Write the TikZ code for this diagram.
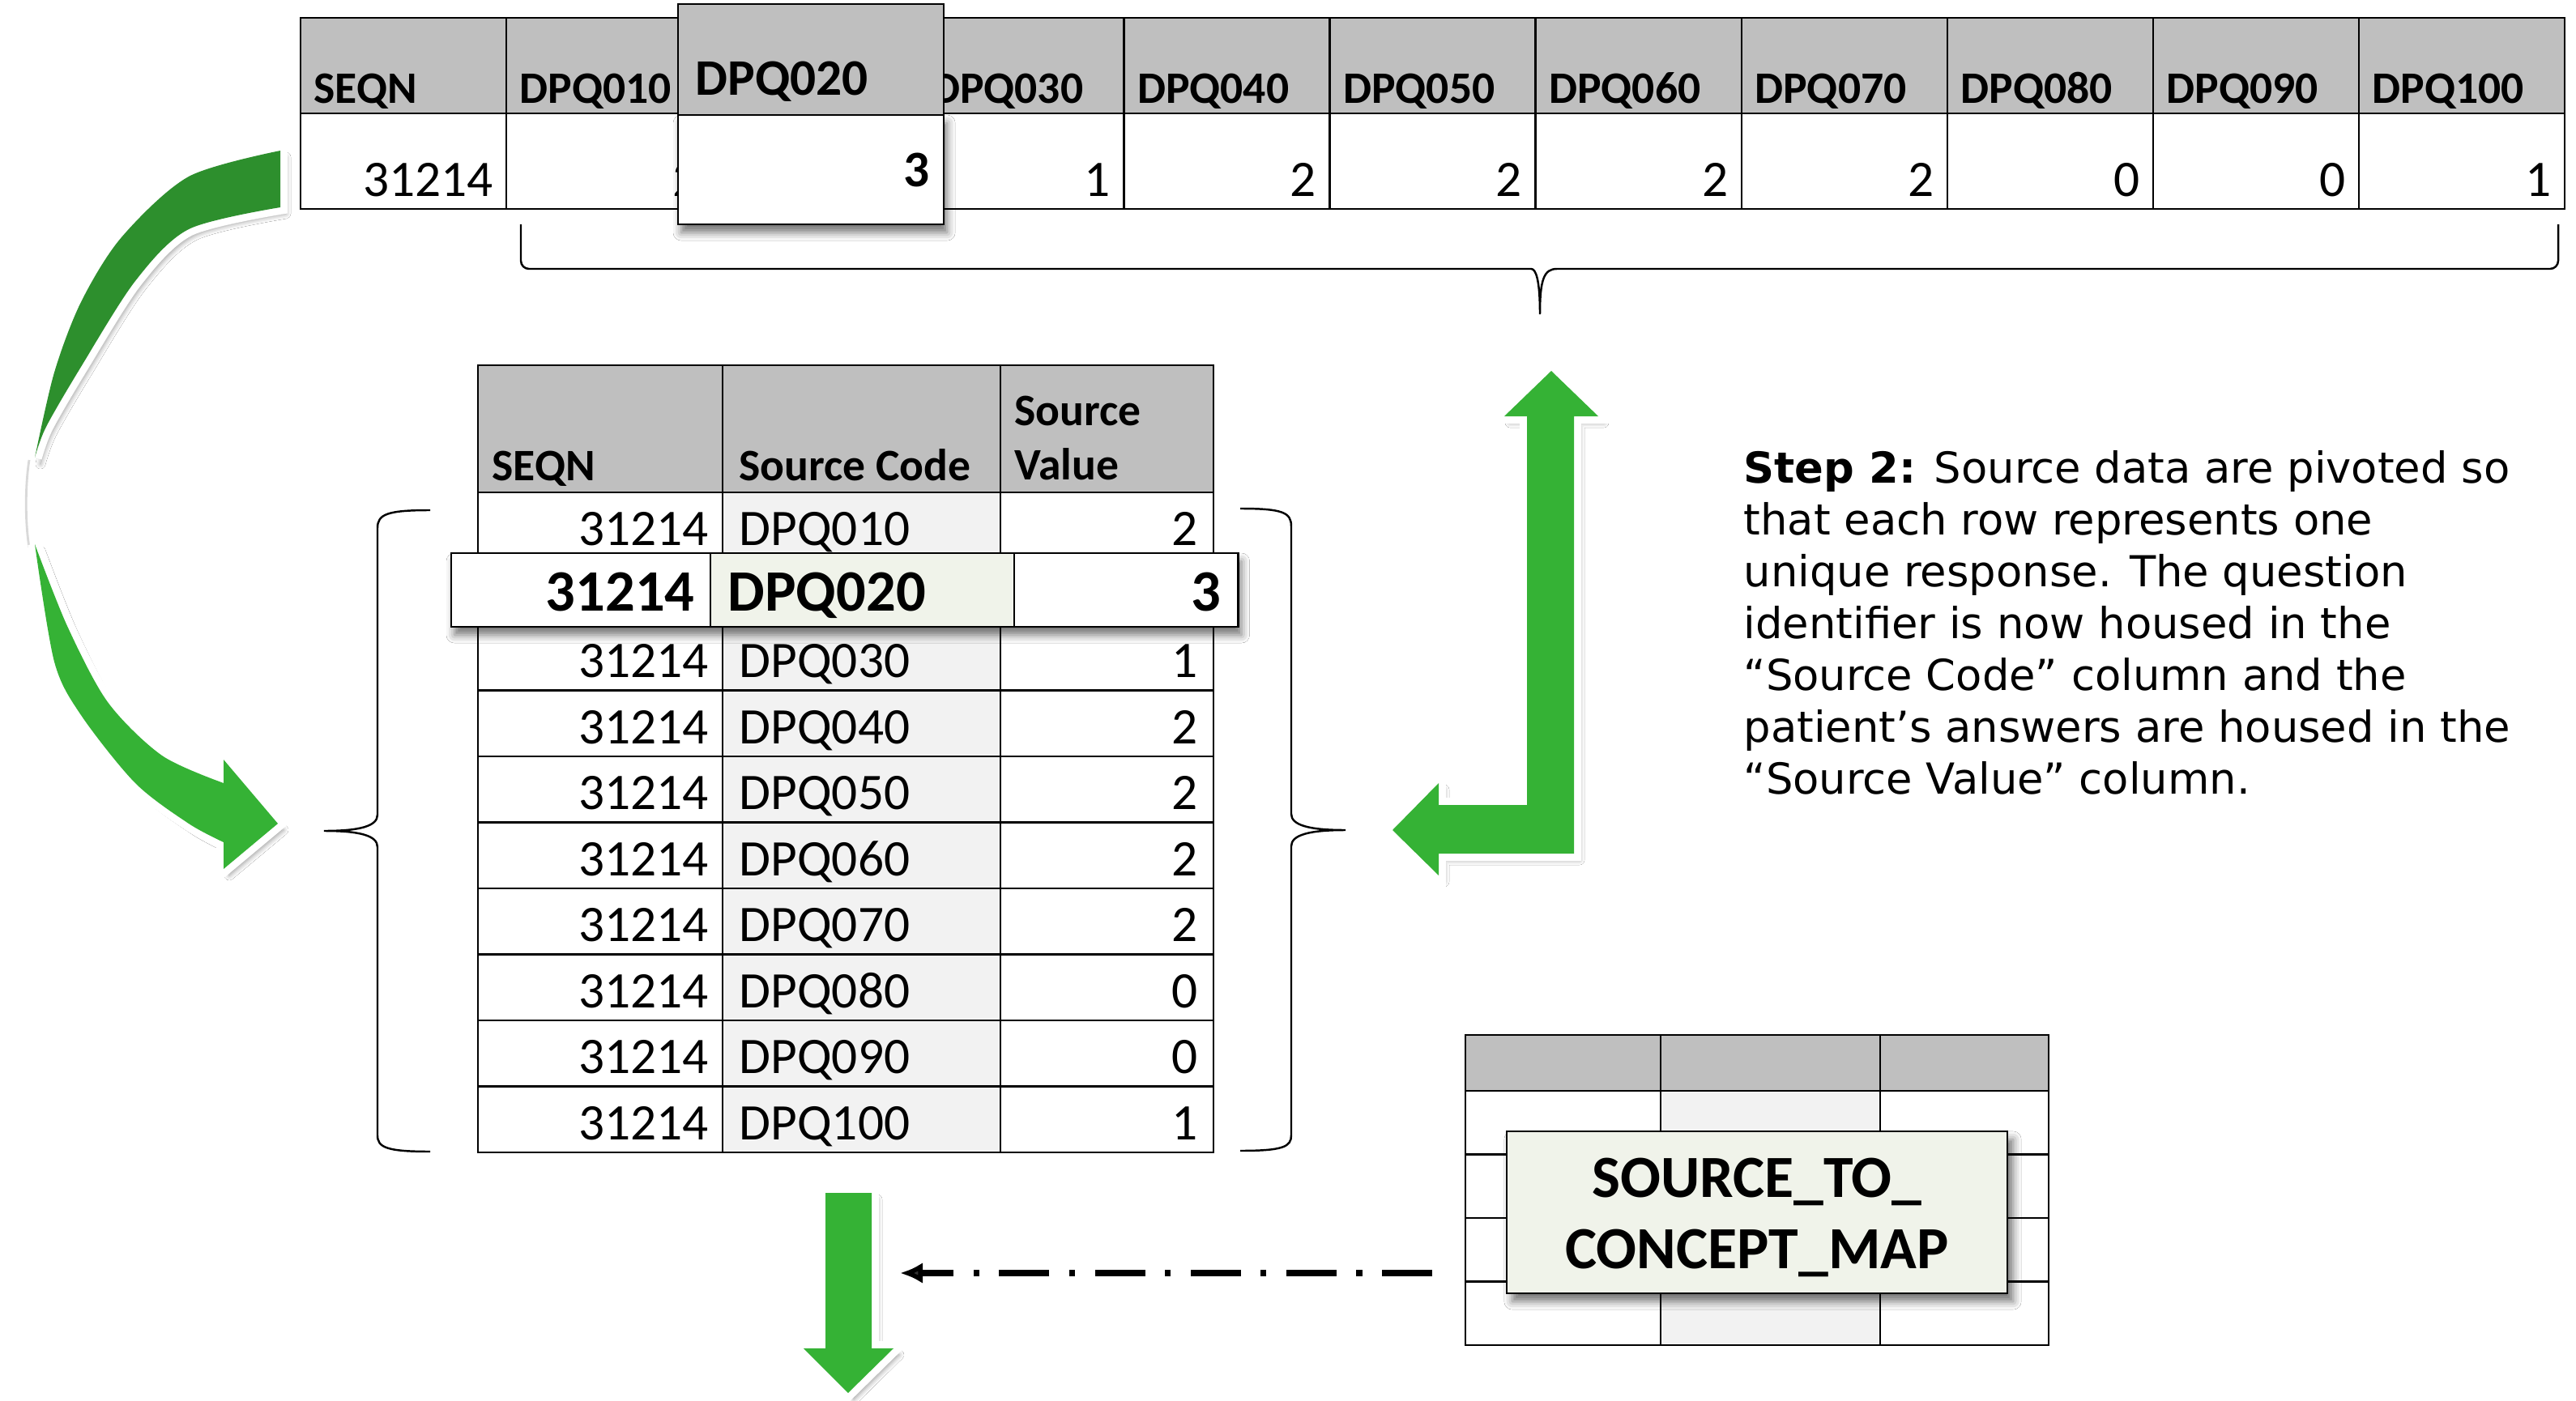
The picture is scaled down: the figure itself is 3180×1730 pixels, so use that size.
\documentclass[tikz,border=0pt]{standalone}
\usepackage{fontspec}
\setmainfont{Carlito}
\newfontfamily\notefont{DejaVu Sans}
\usetikzlibrary{arrows.meta,positioning,calc,shadows.blur}

\definecolor{hdrgray}{RGB}{191,191,191}
\definecolor{codegray}{RGB}{242,242,242}
\definecolor{popfill}{RGB}{240,243,234}
\definecolor{lightgreen}{RGB}{53,178,53}
\definecolor{darkgreen}{RGB}{45,143,45}

\tikzset{
  cell/.style={draw=black, line width=0.65pt, inner sep=0pt, outer sep=0pt, anchor=north west},
  topcell/.style={cell, minimum width=2.541cm, minimum height=1.18cm},
  midcell/.style={cell, minimum height=0.815cm},
  hdrtext/.style={anchor=base west, inner sep=0pt, font=\bfseries\fontsize{15.8}{19}\selectfont},
  numtext/.style={anchor=base east, inner sep=0pt, font=\fontsize{18}{21}\selectfont},
  codetext/.style={anchor=base west, inner sep=0pt, font=\fontsize{18}{21}\selectfont},
  popnum/.style={anchor=base east, inner sep=0pt, font=\bfseries\fontsize{20.6}{24}\selectfont},
  popcode/.style={anchor=base west, inner sep=0pt, font=\bfseries\fontsize{20.6}{24}\selectfont},
  popshadow/.style={blur shadow={shadow xshift=0.04cm, shadow yshift=-0.1cm, shadow blur radius=0.1cm, shadow opacity=55}},
  greenarrow/.style={blur shadow={shadow xshift=0.07cm, shadow yshift=-0.08cm, shadow blur radius=0.06cm, shadow opacity=40},
    preaction={draw=white, line width=5pt, line join=miter, miter limit=3}, fill=#1},
  bracepath/.style={draw=black, line width=0.7pt},
}

\begin{document}
\begin{tikzpicture}[x=0.01cm, y=-0.01cm]
\useasboundingbox (0,0) rectangle (3180,1730);
\fill[white] (0,0) rectangle (3180,1730);

% curved arrow from the wide row down to the long table
\path[greenarrow=darkgreen] (346,186) -- (346,256)
  -- plot[smooth] coordinates {(346,256) (233,283) (167,347) (100,453) (57,527) (43,565)}
  -- plot[smooth] coordinates {(43,565) (67,460) (100,373) (150,293) (233,218) (346,186)} -- cycle;
\draw[black!15, line width=0.8pt] (36,568) .. controls (31,600) and (31,645) .. (36,676);
\path[greenarrow=lightgreen] (43,672)
  -- plot[smooth] coordinates {(43,672) (83,773) (133,867) (200,933) (276,967)}
  -- (276,938) -- (343,1017) -- (276,1073) -- (276,1040)
  -- plot[smooth] coordinates {(276,1040) (233,1017) (167,967) (100,883) (67,817) (43,672)} -- cycle;

% wide table: one row per respondent
\foreach \name/\val [count=\i from 0] in {SEQN/31214, DPQ010/2, DPQ020/3, DPQ030/1, DPQ040/2,
    DPQ050/2, DPQ060/2, DPQ070/2, DPQ080/0, DPQ090/0, DPQ100/1} {
  \node[topcell, fill=hdrgray] (toph\i) at (371+254.1*\i, 22) {};
  \node[topcell] (topv\i) at (371+254.1*\i, 140) {};
  \ifnum\i=2 \else % hidden under the highlighted column
    \node[hdrtext] at ($(toph\i.south west)+(16,-13)$) {\name};
    \node[numtext] at ($(topv\i.south east)+(-16,-16)$) {\val};
  \fi
}
% highlighted column
\node[cell, fill=white, minimum width=3.28cm, minimum height=1.35cm, popshadow] (popv) at (837,142) {};
\node[cell, fill=hdrgray, minimum width=3.28cm, minimum height=1.37cm] (poph) at (837,5) {};
\node[hdrtext, font=\bfseries\fontsize{18}{21}\selectfont] at ($(poph.south west)+(21,-25)$) {DPQ020};
\node[numtext, font=\bfseries\fontsize{18}{21}\selectfont] at ($(popv.south east)+(-17,-47)$) {3};

% brace under the question columns
\draw[bracepath] (643,277) [rounded corners=0.1cm] -- (643,332) -- (1880,332) [sharp corners]
  .. controls (1896,332) and (1901,345) .. (1901,388)
  .. controls (1901,345) and (1906,332) .. (1922,332) [rounded corners=0.1cm] -- (3158,332) -- (3158,277);

% long table
\node[cell, fill=hdrgray, minimum width=3.02cm, minimum height=1.57cm] (midh1) at (590,451) {};
\node[cell, fill=hdrgray, minimum width=3.43cm, minimum height=1.57cm] (midh2) at (892,451) {};
\node[cell, fill=hdrgray, minimum width=2.63cm, minimum height=1.57cm] (midh3) at (1235,451) {};
\node[hdrtext] at ($(midh1.south west)+(17,-15)$) {SEQN};
\node[hdrtext] at ($(midh2.south west)+(20,-15)$) {Source Code};
\node[hdrtext, align=left, anchor=south west, text depth=0pt] at ($(midh3.south west)+(17,-15)$) {Source\\Value};

\foreach \code/\val [count=\r from 0] in {DPQ010/2, DPQ020/3, DPQ030/1, DPQ040/2, DPQ050/2,
    DPQ060/2, DPQ070/2, DPQ080/0, DPQ090/0, DPQ100/1} {
  \node[midcell, minimum width=3.02cm] (seqn\r) at (590, 608+81.5*\r) {};
  \node[midcell, minimum width=3.43cm, fill=codegray] (code\r) at (892, 608+81.5*\r) {};
  \node[midcell, minimum width=2.63cm] (val\r) at (1235, 608+81.5*\r) {};
  \ifnum\r=1 \else % hidden under the highlighted row
    \node[numtext] at ($(seqn\r.south east)+(-17,-16)$) {31214};
    \node[codetext] at ($(code\r.south west)+(20,-16)$) {\code};
    \node[numtext] at ($(val\r.south east)+(-19,-16)$) {\val};
  \fi
}
% highlighted row
\node[cell, fill=white, minimum width=9.71cm, minimum height=0.91cm, popshadow] (poprow) at (557,683) {};
\node[cell, fill=white, minimum width=3.2cm, minimum height=0.91cm] (popseqn) at (557,683) {};
\node[cell, fill=popfill, minimum width=3.75cm, minimum height=0.91cm] (popcode) at (877,683) {};
\node[cell, fill=white, minimum width=2.76cm, minimum height=0.91cm] (popval) at (1252,683) {};
\node[popnum] at ($(popseqn.south east)+(-19,-20)$) {31214};
\node[popcode] at ($(popcode.south west)+(21,-20)$) {DPQ020};
\node[popnum] at ($(popval.south east)+(-20,-20)$) {3};

% braces round the long table
\draw[bracepath] (531,630) .. controls (478,630) and (466,635) .. (466,652) -- (466,1006)
  .. controls (466,1020) and (445,1026) .. (400,1026)
  .. controls (445,1026) and (466,1032) .. (466,1046) -- (466,1402)
  .. controls (466,1417) and (478,1422) .. (531,1422);
\draw[bracepath] (1531,628) .. controls (1584,628) and (1594,633) .. (1594,650) -- (1594,1005)
  .. controls (1594,1019) and (1616,1025) .. (1661,1025)
  .. controls (1616,1025) and (1594,1031) .. (1594,1045) -- (1594,1402)
  .. controls (1594,1416) and (1584,1421) .. (1531,1421);

% L-shaped arrow
\path[greenarrow=lightgreen] (1915,458) -- (1973,514) -- (1943,514) -- (1943,1054) -- (1776,1054)
  -- (1776,1081) -- (1719,1025) -- (1776,967) -- (1776,994) -- (1885,994) -- (1885,514)
  -- (1857,514) -- cycle;

% down arrow
\path[greenarrow=lightgreen] (1019,1473) -- (1076,1473) -- (1076,1665) -- (1103,1665)
  -- (1047,1720) -- (992,1665) -- (1019,1665) -- cycle;

% note
\node[anchor=north west, inner sep=0pt, align=left, font=\notefont\fontsize{15}{18.2}\selectfont] (note) at (2152,556)
  {\textbf{Step 2:} Source data are pivoted so\\
   that each row represents one\\
   unique response. The question\\
   identifier is now housed in the\\
   “Source Code” column and the\\
   patient’s answers are housed in the\\
   “Source Value” column.};

% mapping table
\foreach \x/\w/\shade [count=\c] in {1809/2.41cm/white, 2050/2.71cm/codegray, 2321/2.08cm/white} {
  \node[cell, fill=hdrgray, minimum width=\w, minimum height=0.69cm] (maph\c) at (\x,1278) {};
  \foreach \r in {0,...,3}
    \node[cell, fill=\shade, minimum width=\w, minimum height=0.785cm] (map\c-\r) at (\x,1347+78.5*\r) {};
}
\node[draw=black, line width=0.65pt, fill=popfill, minimum width=6.18cm, minimum height=2cm,
  blur shadow={shadow xshift=0.07cm, shadow yshift=-0.1cm, shadow blur radius=0.1cm, shadow opacity=55}]
  (mapbox) at (2169,1497) {};
\node[align=center, inner sep=0pt, font=\bfseries\fontsize{21}{25}\selectfont] (maptext)
  at ($(mapbox.center)+(0,6)$) {SOURCE\_TO\_\\CONCEPT\_MAP};

% lookup arrow
\coordinate (lookupstart) at (1768,1572);
\coordinate (lookupend) at (1111,1572);
\draw[line width=2.3pt, dash pattern=on 17.6pt off 7pt on 2pt off 7pt,
  -{Latex[length=0.28cm,width=0.26cm]}] (lookupstart) -- (lookupend);
\end{tikzpicture}
\end{document}
